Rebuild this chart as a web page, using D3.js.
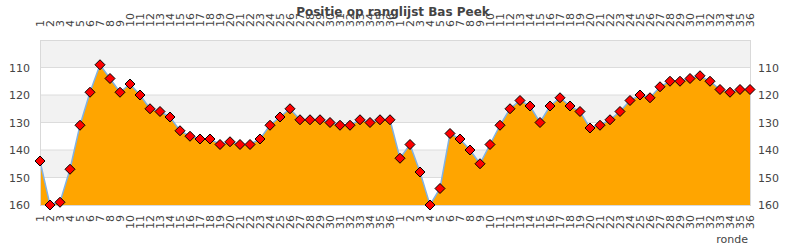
<!DOCTYPE html>
<html>
<head>
<meta charset="utf-8">
<script src="https://cdn.jsdelivr.net/npm/d3@7"></script>
<style>
  body { margin: 0; background: #fff; }
  text { font-family: "DejaVu Sans", sans-serif; }
</style>
</head>
<body>
<div id="chart"></div>
<script>
// rondes (two seasons of 36 rounds)
var rondes = ["1","2","3","4","5","6","7","8","9","10","11","12","13","14","15","16","17","18",
  "19","20","21","22","23","24","25","26","27","28","29","30","31","32","33","34","35","36",
  "1","2","3","4","5","6","7","8","9","10","11","12","13","14","15","16","17","18",
  "19","20","21","22","23","24","25","26","27","28","29","30","31","32","33","34","35","36"];

// positie op ranglijst per ronde
var positie = [144,160,159,147,131,119,109,114,119,116,120,125,126,128,133,135,136,136,
  138,137,138,138,136,131,128,125,129,129,129,130,131,131,129,130,129,129,
  143,138,148,160,154,134,136,140,145,138,131,125,122,124,130,124,121,124,
  126,132,131,129,126,122,120,121,117,115,115,114,113,115,118,119,118,118];

var yTicks = [110, 120, 130, 140, 150, 160];
var yBands = [100, 120, 140];

var svgWidth = 790, svgHeight = 250;
var margin = {top: 40, right: 40, bottom: 45, left: 40};
var width = svgWidth - margin.left - margin.right;
var height = svgHeight - margin.top - margin.bottom;

var svg = d3.select("#chart").append("svg")
  .attr("width", svgWidth)
  .attr("height", svgHeight);

var chartGroup = svg.append("g")
  .attr("transform", `translate(${margin.left}, ${margin.top})`);

var xScale = d3.scaleLinear()
  .domain([0, positie.length - 1])
  .range([0, width]);

var yScale = d3.scaleLinear()
  .domain([100, 160])
  .range([0, height]);

// alternating bands
chartGroup.selectAll("rect.band")
  .data(yBands)
  .enter()
  .append("rect")
  .attr("x", 0)
  .attr("width", width)
  .attr("y", d => yScale(d))
  .attr("height", d => yScale(d + 10) - yScale(d))
  .attr("fill", "#f2f2f2");

// grid lines
chartGroup.selectAll("line.grid")
  .data(yTicks)
  .enter()
  .append("line")
  .attr("x1", 0)
  .attr("x2", width)
  .attr("y1", d => yScale(d))
  .attr("y2", d => yScale(d))
  .attr("stroke", "#dcdcdc");

// area + line
var area = d3.area()
  .x((d, i) => xScale(i))
  .y0(yScale(160))
  .y1(d => yScale(d));

chartGroup.append("path")
  .datum(positie)
  .attr("d", area)
  .attr("fill", "#ffa500");

var line = d3.line()
  .x((d, i) => xScale(i))
  .y(d => yScale(d));

chartGroup.append("path")
  .datum(positie)
  .attr("d", line)
  .attr("fill", "none")
  .attr("stroke", "#7fb2e5")
  .attr("stroke-width", 1.5);

// border
chartGroup.append("rect")
  .attr("x", 0.5)
  .attr("y", 0.5)
  .attr("width", width)
  .attr("height", height)
  .attr("fill", "none")
  .attr("stroke", "#d9d9d9");

// markers
chartGroup.selectAll("path.marker")
  .data(positie)
  .enter()
  .append("path")
  .attr("d", "M0,-5L5,0L0,5L-5,0Z")
  .attr("transform", (d, i) => `translate(${xScale(i)}, ${yScale(d)})`)
  .attr("fill", "#ff0000")
  .attr("stroke", "#000")
  .attr("stroke-width", 1);

// x axes top and bottom
var idx = d3.range(positie.length);

var xTop = d3.axisTop(xScale).tickValues(idx).tickSize(0).tickFormat(i => rondes[i]);
var xBottom = d3.axisBottom(xScale).tickValues(idx).tickSize(0).tickFormat(i => rondes[i]);

var gTop = chartGroup.append("g").call(xTop);
gTop.select(".domain").remove();
gTop.selectAll("text")
  .attr("transform", "rotate(-90)")
  .attr("x", 13)
  .attr("y", 0)
  .attr("dy", "0.35em")
  .attr("text-anchor", "start")
  .attr("font-size", 11)
  .attr("fill", "#444");

var gBottom = chartGroup.append("g")
  .attr("transform", `translate(0, ${height})`)
  .call(xBottom);
gBottom.select(".domain").remove();
gBottom.selectAll("text")
  .attr("transform", "rotate(-90)")
  .attr("x", -10)
  .attr("y", 0)
  .attr("dy", "0.35em")
  .attr("text-anchor", "end")
  .attr("font-size", 11)
  .attr("fill", "#444");

// y axes left and right
var gLeft = chartGroup.append("g")
  .call(d3.axisLeft(yScale).tickValues(yTicks).tickSize(0).tickPadding(10));
gLeft.select(".domain").remove();
gLeft.selectAll("text").attr("font-size", 11).attr("fill", "#444");

var gRight = chartGroup.append("g")
  .attr("transform", `translate(${width}, 0)`)
  .call(d3.axisRight(yScale).tickValues(yTicks).tickSize(0).tickPadding(8));
gRight.select(".domain").remove();
gRight.selectAll("text").attr("font-size", 11).attr("fill", "#444");

// title
svg.append("text")
  .attr("x", 393)
  .attr("y", 16)
  .attr("text-anchor", "middle")
  .attr("font-family", "DejaVu Sans Condensed, DejaVu Sans, sans-serif")
  .attr("font-weight", "bold")
  .attr("font-size", 12)
  .attr("fill", "#444")
  .text("Positie op ranglijst Bas Peek");

// axis title
svg.append("text")
  .attr("x", 748)
  .attr("y", 243)
  .attr("text-anchor", "end")
  .attr("font-size", 11)
  .attr("fill", "#444")
  .text("ronde");
</script>
</body>
</html>
